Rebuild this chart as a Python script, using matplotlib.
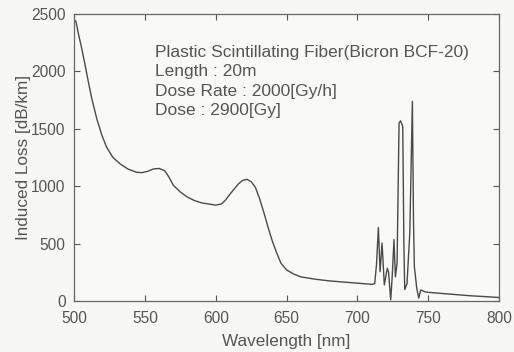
import matplotlib.pyplot as plt

# wavelength [nm] and induced loss [dB/km]
wavelength = [500, 501.4, 503, 505.4, 507.8, 510.1, 512.5, 516, 519.5, 523,
              527.5, 532.5, 538, 544, 548, 552, 556, 560, 564, 567, 570, 575,
              580, 585, 590, 595, 600, 604, 607, 610, 613, 616, 619, 622, 625,
              628, 631, 634, 637, 640, 643, 646, 650, 655, 660, 670, 680, 690,
              700, 710, 712.2, 713.5, 714.8, 716.0, 717.4, 719.0, 721.1, 722.0,
              723.5, 724.6, 725.8, 726.8, 728.0, 729.4, 730.5, 732.0, 732.8,
              733.4, 735.0, 737.0, 738.8, 739.6, 740.2, 741.9, 743.3, 744.7,
              747.7, 750, 760, 770, 780, 790, 800]
loss = [2450, 2436, 2334, 2203, 2057, 1911, 1766, 1591, 1450, 1340, 1250,
        1195, 1150, 1122, 1118, 1130, 1150, 1155, 1135, 1080, 1010, 950, 905,
        875, 855, 845, 835, 845, 880, 930, 975, 1020, 1050, 1060, 1040, 990,
        890, 770, 640, 520, 420, 330, 270, 235, 210, 190, 175, 165, 155, 145,
        150, 320, 640, 255, 505, 140, 285, 250, 10, 220, 535, 210, 330, 1550,
        1570, 1520, 500, 100, 150, 600, 1740, 700, 300, 110, 25, 96, 80, 75,
        65, 55, 45, 38, 30]

info = ['Plastic Scintillating Fiber(Bicron BCF-20)',
        'Length : 20m',
        'Dose Rate : 2000[Gy/h]',
        'Dose : 2900[Gy]']

plt.rcParams['font.family'] = ['Liberation Sans', 'DejaVu Sans']
grey = '#555555'

fig = plt.figure(figsize=(5.14, 3.52), dpi=100, facecolor='#f7f7f5')
ax = fig.add_axes([0.144, 0.145, 0.827, 0.815])
ax.set_facecolor('#f9f9f7')

ax.plot(wavelength, loss, color='#4a4a4a', lw=1.0)

ax.set_xlim(500, 800)
ax.set_ylim(0, 2500)
ax.set_xticks(range(500, 801, 50))
ax.set_yticks(range(0, 2501, 500))
ax.tick_params(direction='in', top=True, right=True, length=4, width=0.8,
               color=grey, labelcolor=grey, labelsize=11.2)
ax.tick_params(axis='x', pad=7)
ax.tick_params(axis='y', pad=6)
for s in ax.spines.values():
    s.set_color('#666666')
    s.set_linewidth(0.9)

ax.set_xlabel('Wavelength [nm]', fontsize=12.3, color=grey, labelpad=6)
ax.set_ylabel('Induced Loss [dB/km]', fontsize=12.3, color=grey, labelpad=0)

ax.text(0.191, 0.893, '\n'.join(info), transform=ax.transAxes, fontsize=12.5,
        color=grey, va='top', ha='left', linespacing=1.38)

plt.savefig('out.png', dpi=100, facecolor=fig.get_facecolor())
